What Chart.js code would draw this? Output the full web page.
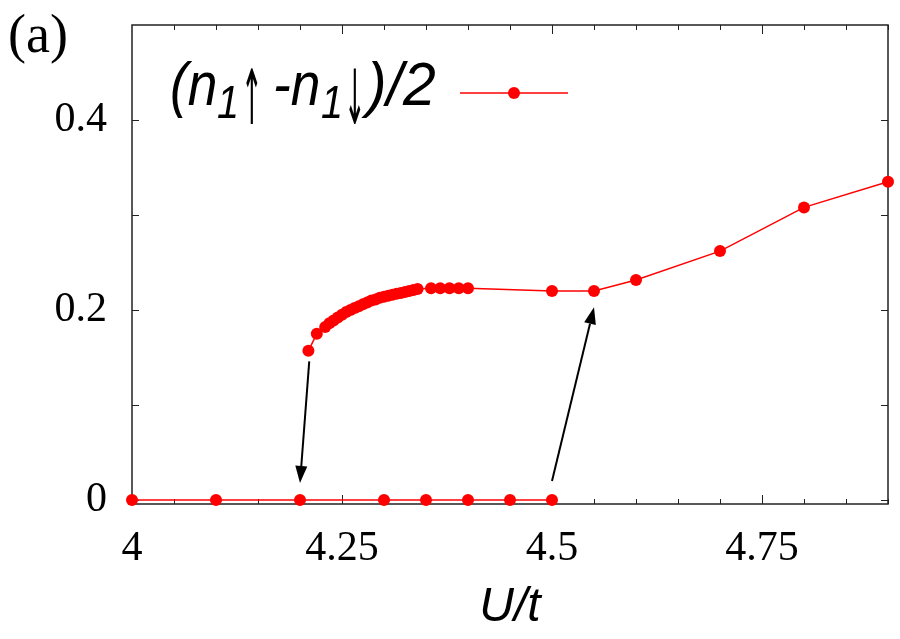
<!DOCTYPE html>
<html lang="en">
<head>
<meta charset="UTF-8">
<title>(n1↑ - n1↓)/2 vs U/t</title>
<script src="https://cdn.jsdelivr.net/npm/chart.js"></script>
<style>
  html, body { margin: 0; padding: 0; background: #fff; }
</style>
</head>
<body>
<canvas id="chart" width="900" height="639"></canvas>
<script>
// lower branch, coming up from small U (stays at zero)
const lowerU = [4, 4.1, 4.2, 4.3, 4.35, 4.4, 4.45, 4.5];
const lowerM = [0, 0, 0, 0, 0, 0, 0, 0];

// upper branch, coming down from large U
const upperU = [4.21, 4.22, 4.23, 4.235, 4.24, 4.245, 4.25, 4.255, 4.26, 4.265, 4.27, 4.275,
  4.28, 4.285, 4.29, 4.295, 4.3, 4.305, 4.31, 4.315, 4.32, 4.325, 4.33, 4.335, 4.34,
  4.356, 4.367, 4.378, 4.389, 4.4, 4.5, 4.55, 4.6, 4.7, 4.8, 4.9];
const upperM = [0.157, 0.175, 0.182, 0.186, 0.189, 0.192, 0.195, 0.198, 0.200, 0.202, 0.204, 0.206,
  0.208, 0.210, 0.211, 0.213, 0.214, 0.215, 0.216, 0.217, 0.218, 0.219, 0.220, 0.221, 0.222,
  0.223, 0.223, 0.223, 0.223, 0.223, 0.220, 0.220, 0.2316, 0.262, 0.308, 0.335];

const xTickVals = [4, 4.25, 4.5, 4.75];
const xTickLabels = ['4', '4.25', '4.5', '4.75'];
const yTickVals = [0, 0.2, 0.4];
const yTickLabels = ['0', '0.2', '0.4'];

// hysteresis arrows [from, to] in (U/t, m)
const arrowDown = [[4.211, 0.146], [4.2, 0.018]];
const arrowUp = [[4.5, 0.02], [4.55, 0.203]];

const RED = '#ff0000';
const pts = (xs, ys) => xs.map((x, i) => ({ x, y: ys[i] }));

const framePlugin = {
  id: 'frame',
  beforeDatasetsDraw(chart) {
    const { ctx, chartArea: a, scales: { x, y } } = chart;
    ctx.save();
    ctx.strokeStyle = '#222';
    ctx.lineWidth = 1.5;
    ctx.strokeRect(a.left, a.top, a.right - a.left, a.bottom - a.top);
    ctx.beginPath();
    for (let v = 4.05; v < 4.9; v += 0.05) {
      const px = Math.round(x.getPixelForValue(v)) + 0.5;
      const major = Math.abs(v * 4 - Math.round(v * 4)) < 1e-6;
      const len = major ? 9 : 5;
      ctx.moveTo(px, a.bottom); ctx.lineTo(px, a.bottom - len);
      ctx.moveTo(px, a.top); ctx.lineTo(px, a.top + len);
    }
    for (let v = 0; v < 0.45; v += 0.1) {
      const py = Math.round(y.getPixelForValue(v)) + 0.5;
      ctx.moveTo(a.left, py); ctx.lineTo(a.left + 7, py);
      ctx.moveTo(a.right, py); ctx.lineTo(a.right - 7, py);
    }
    ctx.lineWidth = 1;
    ctx.stroke();
    ctx.restore();
  },
  afterDatasetsDraw(chart) {
    const { ctx, scales: { x, y } } = chart;
    ctx.save();
    ctx.strokeStyle = '#000';
    ctx.fillStyle = '#000';
    ctx.lineWidth = 2;
    for (const [from, to] of [arrowDown, arrowUp]) {
      const x0 = x.getPixelForValue(from[0]), y0 = y.getPixelForValue(from[1]);
      const x1 = x.getPixelForValue(to[0]), y1 = y.getPixelForValue(to[1]);
      const ang = Math.atan2(y1 - y0, x1 - x0);
      const hl = 17, hw = 6;
      const bx = x1 - hl * Math.cos(ang), by = y1 - hl * Math.sin(ang);
      ctx.beginPath();
      ctx.moveTo(x0, y0); ctx.lineTo(bx, by);
      ctx.stroke();
      ctx.beginPath();
      ctx.moveTo(x1, y1);
      ctx.lineTo(bx + hw * Math.sin(ang), by - hw * Math.cos(ang));
      ctx.lineTo(bx - hw * Math.sin(ang), by + hw * Math.cos(ang));
      ctx.closePath();
      ctx.fill();
    }

    // legend, gnuplot style: text then sample
    ctx.textBaseline = 'alphabetic';
    const big = 'italic 62px "Liberation Sans", Arial, sans-serif';
    const small = 'italic 46px "Liberation Sans", Arial, sans-serif';
    const arr = '76px "DejaVu Sans", sans-serif';
    // [text, font, left x, baseline y, horizontal squeeze]
    const parts = [
      ['(n', big, 170, 105, 0.86], ['1', small, 217, 118, 0.86], ['\u2191', arr, 241, 124, 0.34],
      ['-n', big, 273, 105, 0.86], ['1', small, 321, 118, 0.86], ['\u2193', arr, 344, 124, 0.34],
      [')/2', big, 367, 105, 0.95]
    ];
    for (const [t, f, px, py, sx] of parts) {
      ctx.save();
      ctx.translate(px, py);
      ctx.scale(sx, 1);
      ctx.font = f;
      ctx.fillText(t, 0, 0);
      ctx.restore();
    }
    ctx.strokeStyle = RED;
    ctx.lineWidth = 1.5;
    ctx.beginPath();
    ctx.moveTo(460, 93); ctx.lineTo(568, 93);
    ctx.stroke();
    ctx.fillStyle = RED;
    ctx.beginPath();
    ctx.arc(514, 93, 6, 0, Math.PI * 2);
    ctx.fill();

    // panel label
    ctx.fillStyle = '#000';
    ctx.font = '54px "Liberation Serif", "Times New Roman", serif';
    ctx.fillText('(a)', 8, 52);
    ctx.restore();
  }
};

new Chart(document.getElementById('chart'), {
  type: 'scatter',
  data: {
    datasets: [
      { label: 'lower', data: pts(lowerU, lowerM) },
      { label: '(n1↑ -n1↓)/2', data: pts(upperU, upperM) }
    ].map(d => Object.assign(d, {
      showLine: true,
      borderColor: RED,
      borderWidth: 1.5,
      backgroundColor: RED,
      pointBackgroundColor: RED,
      pointBorderWidth: 0,
      pointRadius: 6,
      pointHoverRadius: 6,
      clip: false
    }))
  },
  plugins: [framePlugin],
  options: {
    responsive: false,
    animation: false,
    devicePixelRatio: 1,
    layout: { padding: { top: 25, right: 12, left: 0, bottom: 0 } },
    plugins: { legend: { display: false }, tooltip: { enabled: false } },
    scales: {
      x: {
        type: 'linear', min: 4, max: 4.9,
        grid: { display: false, drawTicks: false },
        border: { display: false },
        afterBuildTicks: s => { s.ticks = xTickVals.map(v => ({ value: v })); },
        afterFit: s => { s.height = 135; s.paddingLeft = 0; s.paddingRight = 0; },
        ticks: {
          padding: 20, color: '#000', maxRotation: 0, autoSkip: false,
          font: { family: '"Liberation Serif", "Times New Roman", serif', size: 42 },
          callback: v => xTickLabels[xTickVals.indexOf(v)]
        },
        title: {
          display: true, text: 'U/t', color: '#000',
          font: { family: '"Liberation Sans", Arial, sans-serif', size: 48, style: 'italic' },
          padding: { top: 0, bottom: 3 }
        }
      },
      y: {
        type: 'linear', min: -0.0042, max: 0.5,
        grid: { display: false, drawTicks: false },
        border: { display: false },
        afterBuildTicks: s => { s.ticks = yTickVals.map(v => ({ value: v })); },
        afterFit: s => { s.width = 132; s.paddingTop = 0; s.paddingBottom = 0; },
        ticks: {
          padding: 25, color: '#000',
          font: { family: '"Liberation Serif", "Times New Roman", serif', size: 42 },
          callback: v => yTickLabels[yTickVals.indexOf(v)]
        }
      }
    }
  }
});
</script>
</body>
</html>
